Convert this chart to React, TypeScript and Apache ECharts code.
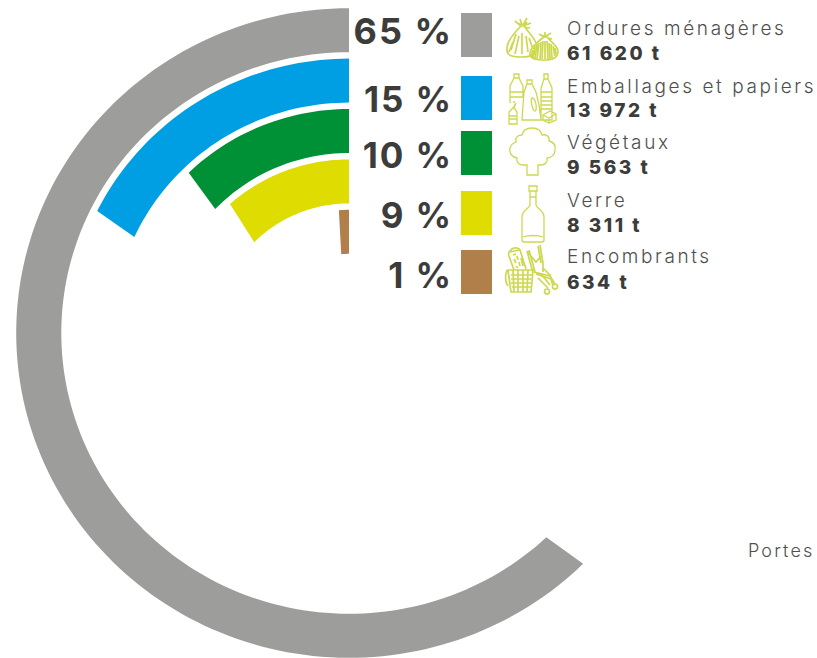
import React, { useEffect, useRef } from "react";
import * as echarts from "echarts";

const categories = ["Ordures ménagères", "Emballages et papiers", "Végétaux", "Verre", "Encombrants"];
const percents = ["65 %", "15 %", "10 %", "9 %", "1 %"];
const tonnages = ["61 620 t", "13 972 t", "9 563 t", "8 311 t", "634 t"];
// swept angle of each ring in degrees, read at its outer and at its inner edge
const sweepOuter = [224.7, 63.6, 44.3, 42, 4.6];
const sweepInner = [223.3, 65.4, 46.5, 45.5, 5.5];
const colors = ["#9d9d9c", "#009fe3", "#009036", "#dedc00", "#b17f4a"];
const footerLabel = "Portes";

const CX = 349;
const CY = 333;
const STRETCH = 1.0246;
const HALF_BAND = 22;
const swatchTop = [13, 76, 131, 191, 250];
const percentY = [31, 98.5, 154.5, 215, 274.5];
const nameY = [28, 86, 142.5, 200.5, 256.5];
const tonY = [53, 110, 167, 225, 282];
const ICON = "#cdd84f";

const iconPaths: Record<string, string> = {
  iconBags:
    "M521 26C514 33 506 42 507 50C507 56 513 57 522 57C532 57 537 54 537 47C537 40 529 33 524 26Z" +
    "M521 26L515 21M522 25L520 19M523 25L527 18M523 26L531 23M524 27L530 28M517 23L522 25M527 22L524 26" +
    "M516 34L511 50M519 36L515 54M522 33L522 54M526 36L528 52M529 38L533 49M513 42L509 52" +
    "M544 37C537 42 530 48 530 54C531 60 538 60 545 60C552 60 558 58 558 51C558 46 551 42 547 37Z" +
    "M544 37L539 34M545 36L545 32M546 36L551 33M548 38L552 39M541 35L546 37M549 34L546 37" +
    "M533 50L531 58M535 46L533 58M537 44L535 59M539 43L537 59M541 42L540 59M543 41L542 59M545 41L545 59M547 41L548 59M549 43L550 59M551 44L552 58M553 46L555 56M555 48L556 54",
  iconBottles:
    "M514 74H519V78H514ZM514 78L510 86V103M519 78L523 86V97H521M510 92H523M510 97H523" +
    "M516 103L513 108L509 112V124H517V112L514 108ZM513 102H515M509 116H517M509 119H517" +
    "M527 80H532V84H527ZM527 84L524 92L522 120H541L539 105L536 92L532 84ZM532 98C535 98 537 105 536 110C535 113 533 110 532 106C531 102 531 98 532 98Z" +
    "M544 74H548V79H544ZM544 79L541 88V120H552V88L548 79M541 92H552M541 97H552M541 101H552M541 105H552M541 109H552" +
    "M543 115L550 111L556 114V120L549 123L543 120ZM543 115L549 118L556 114M549 118V123",
  iconTree:
    "M527 175V165H523C518 165 516 161 517 158C511 157 509 152 510 148C511 144 513 143 516 142C515 137 518 135 522 135C523 130 527 128 532 128C537 128 541 130 542 135C546 134 550 136 549 141C553 142 556 145 555 150C555 155 551 158 547 158C548 162 545 165 541 165H538V175Z",
  iconBottle:
    "M529 186H537V191H529ZM530 191V205C530 208 522 210 522 217V240C522 241 523 242 524 242H542C543 242 544 241 544 240V217C544 210 536 208 536 205V191" +
    "M523 237C528 235 538 235 543 237M530 197H536",
  iconBulky:
    "M512 249C515 247 519 248 520 250L526 269M512 249C509 251 508 254 509 256L514 270M510 252L519 250M513 255L516 254M517 256L518 260M514 259L516 263M519 262L520 266M516 266L518 268M521 258L523 266" +
    "M508 270H533L531 292H511ZM507 270C505 276 505 282 508 286M511 275H532M511 279H531M511 283H531M512 287H531M513 270L514 292M518 270L518 292M523 270L523 292M528 270L527 292" +
    "M527 251L533 273M529 250L535 272M540 245L543 263L543 272M538 246L541 263M527 251L536 262L541 256M534 272L550 276L555 284M536 274L551 279L553 286M538 278L548 288M541 274L550 285M543 268L551 276" +
    "M547 289A2.5 2.5 0 1 0 547 294A2.5 2.5 0 1 0 547 289ZM555 284A2.5 2.5 0 1 0 555 289A2.5 2.5 0 1 0 555 284Z",
};
Object.entries(iconPaths).forEach(([name, d]) =>
  echarts.graphic.registerShape(name, echarts.graphic.extendPath(d, {}))
);

const css = `
.overlay text { letter-spacing: 0.137em; }
.overlay text[style*="800"] { letter-spacing: 0.133em; }
.overlay text[style*="35px"], .overlay text[style*="36px"] { letter-spacing: 0.055em; }
.overlay text[style*="18px"] { letter-spacing: 0.12em; }
`;

function renderRing(params: any, api: any) {
  const cat = api.value(0);
  const outer = api.value(1);
  const inner = api.value(2);
  const { cx, cy } = params.coordSys;
  const arc = (sweep: number, offset: number) => {
    const pts: number[][] = [];
    const steps = Math.max(4, Math.ceil(sweep / 1.5));
    for (let k = 0; k <= steps; k++) {
      const p = api.coord([cat, (sweep * k) / steps]);
      const dx = p[0] - cx;
      const dy = p[1] - cy;
      const r = Math.hypot(dx, dy);
      pts.push([cx + (dx / r) * (r + offset), cy + (dy / r) * (r + offset)]);
    }
    return pts;
  };
  return {
    type: "polygon",
    shape: { points: [...arc(outer, HALF_BAND), ...arc(inner, -HALF_BAND).reverse()] },
    style: { fill: colors[params.dataIndex] },
  };
}

export default function App() {
  const ringRef = useRef<HTMLDivElement>(null);
  const overlayRef = useRef<HTMLDivElement>(null);

  useEffect(() => {
    const ring = echarts.init(ringRef.current!, null, { renderer: "svg" });
    ring.setOption({
      animation: false,
      polar: { center: [CX, CY], radius: [76, 328] },
      angleAxis: { show: false, type: "value", min: 0, max: 360, startAngle: 90, clockwise: false },
      radiusAxis: { show: false, type: "category", inverse: true, data: categories },
      series: [
        {
          type: "custom",
          coordinateSystem: "polar",
          silent: true,
          clip: false,
          encode: { radius: 0, angle: 1 },
          renderItem: renderRing,
          data: categories.map((_, i) => [i, sweepOuter[i], sweepInner[i]]),
        },
      ],
    });

    const overlay = echarts.init(overlayRef.current!, null, { renderer: "svg" });
    const elements: any[] = [];
    categories.forEach((name, i) => {
      elements.push({
        type: "rect",
        shape: { x: 461, y: swatchTop[i], width: 31, height: 44 },
        style: { fill: colors[i] },
      });
      elements.push({
        type: "text",
        style: {
          text: percents[i],
          x: 453,
          y: percentY[i],
          align: "right",
          verticalAlign: "middle",
          font: `bold ${i === 0 ? 36 : 35}px Inter`,
          fill: "#3c3c3b",
        },
      });
      elements.push({
        type: "text",
        style: {
          text: name,
          x: 567,
          y: nameY[i],
          align: "left",
          verticalAlign: "middle",
          font: "300 19px Inter",
          fill: "#4f4f4e",
        },
      });
      elements.push({
        type: "text",
        style: {
          text: tonnages[i],
          x: 567,
          y: tonY[i],
          align: "left",
          verticalAlign: "middle",
          font: "800 19px Inter",
          fill: "#3c3c3b",
        },
      });
    });
    elements.push({
      type: "text",
      style: {
        text: footerLabel,
        x: 748,
        y: 550,
        align: "left",
        verticalAlign: "middle",
        font: "300 18px Inter",
        fill: "#4f4f4e",
      },
    });
    Object.keys(iconPaths).forEach((name) => {
      elements.push({
        type: name,
        x: 0,
        y: 0,
        style: { fill: "none", stroke: ICON, lineWidth: name === "iconBags" || name === "iconBulky" ? 1.7 : 1.3 },
      });
    });
    overlay.setOption({ animation: false, graphic: { elements } });

    return () => {
      ring.dispose();
      overlay.dispose();
    };
  }, []);

  return (
    <div style={{ position: "absolute", left: 0, top: 0, width: 817, height: 658, overflow: "hidden", background: "#fff" }}>
      <style>{css}</style>
      <div
        ref={ringRef}
        style={{
          position: "absolute",
          left: 0,
          top: 0,
          width: 817,
          height: 658,
          transformOrigin: `${CX}px ${CY}px`,
          transform: `scaleX(${STRETCH})`,
        }}
      />
      <div ref={overlayRef} className="overlay" style={{ position: "absolute", left: 0, top: 0, width: 817, height: 658 }} />
    </div>
  );
}
